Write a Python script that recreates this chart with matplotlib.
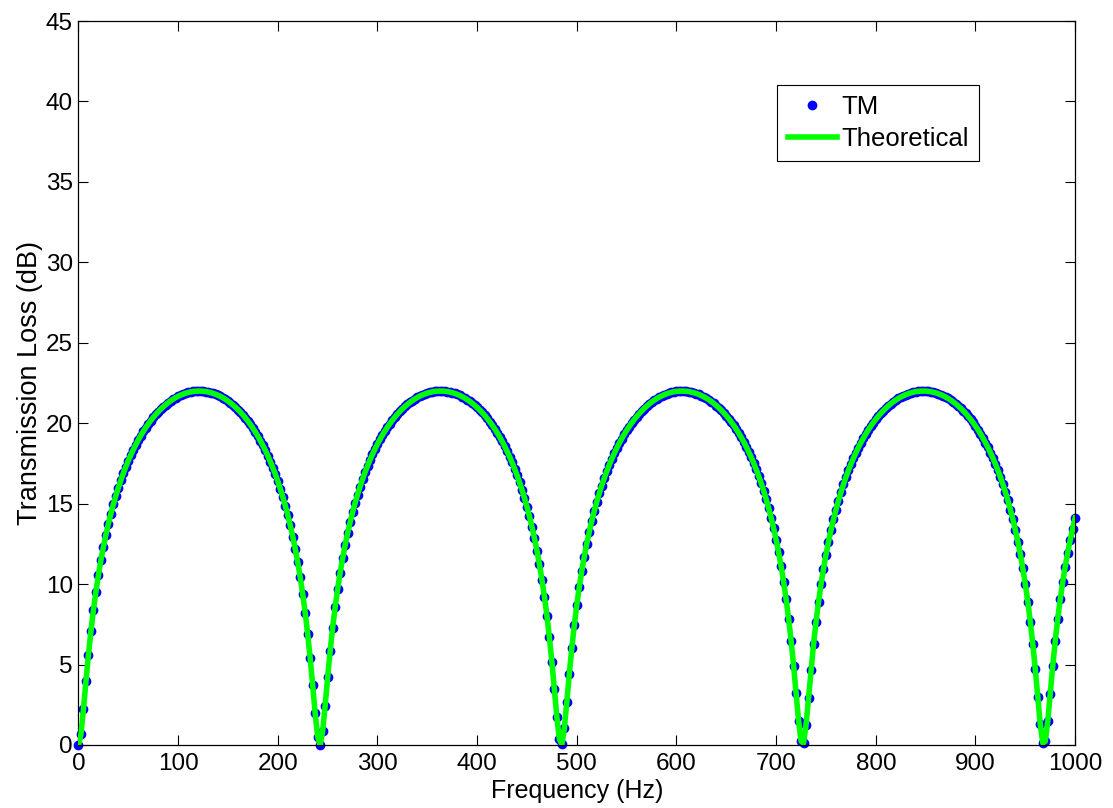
import numpy as np
import matplotlib
matplotlib.use("Agg")
import matplotlib.pyplot as plt

plt.rcParams["font.family"] = ["Liberation Sans", "DejaVu Sans"]

# frequency grid of the TM samples (Hz)
freq_step = 2.5
freq = np.arange(0, 1000 + freq_step / 2, freq_step)

# transmission loss (dB)
lobe1_rise = [0.000, 0.666, 2.206, 3.954, 5.606, 7.080, 8.382, 9.533, 10.557, 11.475,
              12.303, 13.056, 13.744, 14.374, 14.956, 15.493, 15.993, 16.456, 16.889, 17.292,
              17.670, 18.024, 18.355, 18.666, 18.957, 19.230, 19.486, 19.727, 19.952, 20.162,
              20.359, 20.543, 20.713, 20.872, 21.019, 21.154, 21.279, 21.393, 21.497, 21.590,
              21.674, 21.747, 21.811, 21.866, 21.911, 21.947, 21.973, 21.991, 21.999]
lobe1_fall = [21.998, 21.989, 21.970, 21.942, 21.905, 21.859, 21.803, 21.737, 21.662, 21.577,
              21.483, 21.378, 21.262, 21.136, 20.999, 20.850, 20.690, 20.518, 20.332, 20.133,
              19.921, 19.694, 19.451, 19.193, 18.917, 18.623, 18.310, 17.976, 17.618, 17.237,
              16.830, 16.393, 15.924, 15.420, 14.877, 14.289, 13.651, 12.954, 12.193, 11.351,
              10.420, 9.380, 8.210, 6.886, 5.385, 3.714, 1.968, 0.502]
lobe2_rise = [0.014, 0.847, 2.451, 4.196, 5.820, 7.273, 8.551, 9.684, 10.691, 11.597,
              12.412, 13.156, 13.835, 14.459, 15.033, 15.566, 16.059, 16.519, 16.947, 17.347,
              17.721, 18.071, 18.399, 18.708, 18.996, 19.267, 19.520, 19.759, 19.982, 20.191,
              20.385, 20.567, 20.736, 20.893, 21.039, 21.172, 21.295, 21.408, 21.510, 21.603,
              21.685, 21.757, 21.819, 21.873, 21.916, 21.951, 21.976, 21.992, 21.999]
lobe2_fall = [21.998, 21.987, 21.967, 21.937, 21.899, 21.852, 21.794, 21.727, 21.651, 21.565,
              21.469, 21.362, 21.245, 21.117, 20.979, 20.828, 20.666, 20.492, 20.305, 20.104,
              19.890, 19.661, 19.416, 19.155, 18.877, 18.580, 18.264, 17.927, 17.566, 17.182,
              16.771, 16.329, 15.856, 15.346, 14.797, 14.203, 13.556, 12.852, 12.079, 11.228,
              10.282, 9.225, 8.034, 6.686, 5.161, 3.468, 1.731, 0.358]
lobe3_rise = [0.056, 1.043, 2.696, 4.434, 6.037, 7.461, 8.719, 9.832, 10.825, 11.715,
              12.522, 13.254, 13.927, 14.542, 15.112, 15.637, 16.127, 16.581, 17.006, 17.400,
              17.773, 18.119, 18.444, 18.749, 19.035, 19.304, 19.555, 19.791, 20.012, 20.219,
              20.412, 20.592, 20.759, 20.914, 21.058, 21.190, 21.312, 21.423, 21.524, 21.615,
              21.695, 21.766, 21.827, 21.880, 21.922, 21.955, 21.979, 21.994, 22.000]
lobe3_fall = [21.997, 21.985, 21.963, 21.932, 21.893, 21.844, 21.786, 21.717, 21.639, 21.552,
              21.455, 21.346, 21.228, 21.099, 20.959, 20.806, 20.643, 20.467, 20.278, 20.075,
              19.859, 19.627, 19.381, 19.119, 18.837, 18.538, 18.218, 17.879, 17.514, 17.127,
              16.711, 16.266, 15.787, 15.273, 14.717, 14.117, 13.462, 12.749, 11.966, 11.101,
              10.141, 9.067, 7.856, 6.483, 4.934, 3.222, 1.503, 0.236]
lobe4_rise = [0.125, 1.251, 2.941, 4.668, 6.247, 7.647, 8.882, 9.978, 10.954, 11.833,
              12.628, 13.353, 14.016, 14.625, 15.187, 15.708, 16.191, 16.643, 17.062, 17.454,
              17.822, 18.166, 18.488, 18.790, 19.074, 19.340, 19.589, 19.823, 20.042, 20.246,
              20.438, 20.615, 20.781, 20.935, 21.078, 21.208, 21.328, 21.438, 21.537, 21.626,
              21.705, 21.775, 21.835, 21.886, 21.927, 21.959, 21.982, 21.995, 22.000]
lobe4_fall = [21.995, 21.982, 21.960, 21.927, 21.887, 21.836, 21.777, 21.707, 21.628, 21.539,
              21.440, 21.331, 21.211, 21.080, 20.938, 20.784, 20.619, 20.441, 20.250, 20.046,
              19.827, 19.594, 19.345, 19.080, 18.796, 18.494, 18.172, 17.829, 17.461, 17.070,
              16.651, 16.200, 15.718, 15.197, 14.636, 14.028, 13.367, 12.643, 11.850, 10.972,
              9.998, 8.906, 7.673, 6.277, 4.701, 2.976, 1.282, 0.137]
lobe5_rise = [0.220, 1.471, 3.187, 4.900, 6.454, 7.829, 9.044, 10.121, 11.083, 11.950,
              12.734, 13.449, 14.103]

tm_loss = np.array(lobe1_rise + lobe1_fall + lobe2_rise + lobe2_fall + lobe3_rise
                   + lobe3_fall + lobe4_rise + lobe4_fall + lobe5_rise)
theory_loss = tm_loss

x_ticks = list(range(0, 1001, 100))
y_ticks = list(range(0, 46, 5))

fig = plt.figure(figsize=(11.13, 8.08), dpi=100)
ax = fig.add_axes([0.0705, 0.078, 0.8955, 0.896])

ax.plot(freq, tm_loss, "o", color="#0000ff", ms=6, mec="#0000ff", label="TM",
        zorder=2, clip_on=False)
ax.plot(freq, theory_loss, "-", color="#00ff00", lw=4, label="Theoretical", zorder=3)

ax.set_xlim(0, 1000)
ax.set_ylim(0, 45)
ax.set_xticks(x_ticks)
ax.set_yticks(y_ticks)
ax.tick_params(direction="in", top=True, right=True, length=7, width=0.8,
               labelsize=17.5, pad=4)
ax.tick_params(axis="x", pad=6)
for sp in ax.spines.values():
    sp.set_linewidth(0.9)
    sp.set_color("black")

ax.set_xlabel("Frequency (Hz)", fontsize=18, labelpad=3)
ax.set_ylabel("Transmission Loss (dB)", fontsize=19.5, labelpad=2)

leg = ax.legend(loc="upper right", bbox_to_anchor=(0.904, 0.912), fontsize=18.5,
                fancybox=False, edgecolor="black", framealpha=1, borderaxespad=0,
                handlelength=1.9, handletextpad=0.2, borderpad=0.4, labelspacing=0.3)
leg.get_frame().set_linewidth(0.8)

fig.savefig("out.png", dpi=100)
